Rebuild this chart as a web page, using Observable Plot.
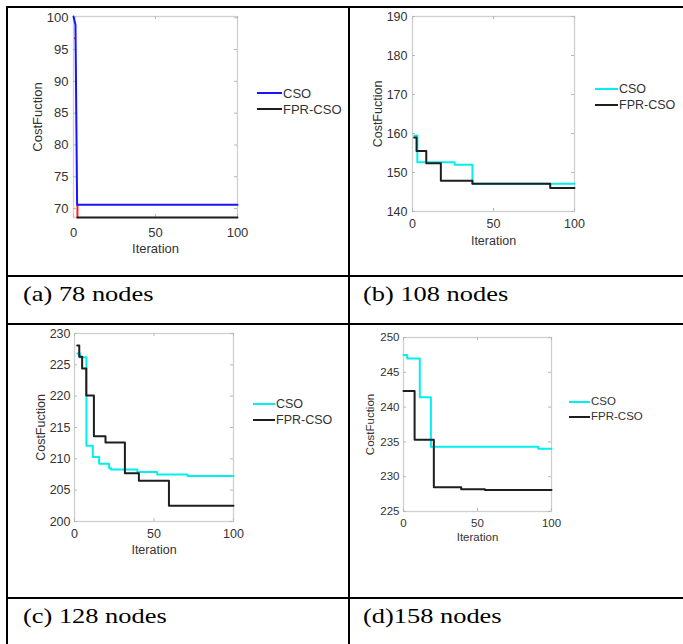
<!DOCTYPE html>
<html><head><meta charset="utf-8">
<script src="https://cdn.jsdelivr.net/npm/d3@7"></script>
<script src="https://cdn.jsdelivr.net/npm/@observablehq/plot@0.6"></script>
<style>
body{margin:0;background:#fff;}
#root{position:relative;width:683px;height:644px;overflow:hidden;background:#fff;font-family:"Liberation Sans",Arial,sans-serif;}
.hl{position:absolute;background:#000;height:2px;}
.vl{position:absolute;background:#000;width:2px;}
.cap{position:absolute;font-family:"Liberation Serif","Times New Roman",serif;font-size:22px;color:#000;transform:scaleX(1.2);transform-origin:0 0;white-space:nowrap;line-height:1;}
.panel{position:absolute;}
.panel svg{overflow:visible;}
.legline{position:absolute;height:2px;}
.legtxt{position:absolute;font-family:"Liberation Sans",Arial,sans-serif;color:#333;white-space:nowrap;line-height:1;}
</style></head><body><div id="root"></div>
<script>
// ---------- data ----------
const xTicks = [0, 50, 100];
const seriesNames = ["CSO", "FPR-CSO"];
const captions = ["(a) 78 nodes", "(b) 108 nodes", "(c) 128 nodes", "(d)158 nodes"];
const yLabel = "CostFuction";
const xLabel = "Iteration";

// (a) 78 nodes
const aYTicks = [70, 75, 80, 85, 90, 95, 100];
const aCsoIter = [0, 1.2, 2.2, 100];
const aCsoVal = [100.2, 98.9, 70.6, 70.6];
const aFprIter = [2.4, 100];
const aFprVal = [68.6, 68.6];
const aRedIter = [2.4, 2.4];
const aRedVal = [68.6, 70.6];
const aRedDotIter = [0.9];
const aRedDotVal = [96.8];

// (b) 108 nodes
const bYTicks = [140, 150, 160, 170, 180, 190];
const bCsoIter = [1, 3, 26, 37, 100];
const bCsoVal = [159.5, 152.6, 152.0, 147.1, 147.1];
const bFprIter = [1, 2.5, 8.5, 17.5, 37, 85, 100];
const bFprVal = [159.0, 155.5, 152.4, 147.9, 147.1, 146.0, 146.0];

// (c) 128 nodes
const cYTicks = [200, 205, 210, 215, 220, 225, 230];
const cCsoIter = [1.7, 3.4, 7.5, 11.5, 15.5, 21.8, 23, 39.5, 52, 71, 100];
const cCsoVal = [226.8, 226.2, 212.1, 210.3, 209.2, 208.5, 208.3, 207.9, 207.5, 207.25, 207.25];
const cFprIter = [1.7, 3, 4.8, 7.4, 12.2, 19.5, 31.7, 40.5, 59.4, 100];
const cFprVal = [228.1, 226.3, 224.4, 220.1, 213.6, 212.6, 207.7, 206.5, 202.5, 202.5];

// (d) 158 nodes
const dYTicks = [225, 230, 235, 240, 245, 250];
const dCsoIter = [0, 2.5, 11, 18.5, 91, 100];
const dCsoVal = [247.5, 247.0, 241.4, 234.3, 234.0, 234.0];
const dFprIter = [0, 7.5, 20.5, 39, 55, 100];
const dFprVal = [242.3, 235.3, 228.5, 228.2, 228.1, 228.1];

// ---------- layout ----------
const root = document.getElementById("root");
function el(cls, css, text) {
  const d = document.createElement("div");
  d.className = cls;
  Object.assign(d.style, css);
  if (text != null) d.textContent = text;
  root.appendChild(d);
  return d;
}
// table lines
el("hl", {left: "7px", top: "6px", width: "676px"});
el("hl", {left: "7px", top: "275px", width: "676px"});
el("hl", {left: "7px", top: "323px", width: "676px"});
el("hl", {left: "7px", top: "597px", width: "676px"});
el("vl", {left: "6px", top: "6px", height: "638px"});
el("vl", {left: "348px", top: "6px", height: "638px"});
// captions
el("cap", {left: "23px", top: "283px"}, captions[0]);
el("cap", {left: "363px", top: "283px"}, captions[1]);
el("cap", {left: "23px", top: "605px"}, captions[2]);
el("cap", {left: "363px", top: "605px"}, captions[3]);

const zip = (xs, ys) => xs.map((x, i) => ({iter: x, val: ys[i]}));

function panel(cfg) {
  const innerH = cfg.height - cfg.mt - cfg.mb;
  const innerW = cfg.width - cfg.ml - cfg.mr;
  const tickStroke = "#b8b8b8";
  const marks = [
    Plot.frame({stroke: "#cfcfcf", strokeWidth: 1.3}),
    Plot.tickX(xTicks, {x: d => d, insetTop: innerH - 3, stroke: tickStroke}),
    Plot.tickX(xTicks, {x: d => d, insetBottom: innerH - 3, stroke: tickStroke}),
    Plot.tickY(cfg.yTicks, {y: d => d, insetRight: innerW - 3, stroke: tickStroke}),
    Plot.tickY(cfg.yTicks, {y: d => d, insetLeft: innerW - 3, stroke: tickStroke}),
    Plot.axisX(xTicks, {tickSize: 0, tickPadding: cfg.xPad, fontSize: cfg.fs}),
    Plot.axisY(cfg.yTicks, {tickSize: 0, tickPadding: cfg.yPad, fontSize: cfg.fs}),
    ...cfg.extra,
    Plot.line(zip(cfg.csoIter, cfg.csoVal), {x: "iter", y: "val", curve: cfg.curve, stroke: cfg.csoColor, strokeWidth: 2}),
    Plot.line(zip(cfg.fprIter, cfg.fprVal), {x: "iter", y: "val", curve: cfg.curve, stroke: "#1e1e1e", strokeWidth: 2}),
    Plot.text([xLabel], {text: d => d, frameAnchor: "bottom", lineAnchor: "middle", textAnchor: "middle", dy: cfg.xlDy, fontSize: cfg.fs}),
    Plot.text([yLabel], {text: d => d, frameAnchor: "left", lineAnchor: "middle", textAnchor: "middle", dx: cfg.ylDx, rotate: -90, fontSize: cfg.fs})
  ];
  const svg = Plot.plot({
    width: cfg.width, height: cfg.height,
    marginLeft: cfg.ml, marginRight: cfg.mr, marginTop: cfg.mt, marginBottom: cfg.mb,
    x: {domain: [0, 100], label: null},
    y: {domain: cfg.yDomain, label: null},
    style: {fontFamily: "Liberation Sans, Arial, sans-serif", fontSize: cfg.fs + "px", color: "#333", background: "transparent", overflow: "visible"},
    marks
  });
  const wrap = el("panel", {left: cfg.left + "px", top: cfg.top + "px"});
  wrap.appendChild(svg);
  // legend
  const colors = [cfg.csoColor, "#1e1e1e"];
  seriesNames.forEach((name, i) => {
    const y = cfg.legY[i];
    el("legline", {left: cfg.legX0 + "px", top: (y - 1) + "px", width: (cfg.legX1 - cfg.legX0) + "px", background: colors[i]});
    el("legtxt", {left: (cfg.legX1 + 1) + "px", top: (y - 0.49 * cfg.fs) + "px", fontSize: cfg.fs + "px"}, name);
  });
}

panel({
  left: 12, top: 9, width: 241, height: 253, ml: 61, mr: 16, mt: 7, mb: 45,
  yDomain: [68.6, 100.2], yTicks: aYTicks, fs: 13, xPad: 10, yPad: 5, xlDy: 31, ylDx: -36,
  csoIter: aCsoIter, csoVal: aCsoVal, fprIter: aFprIter, fprVal: aFprVal,
  csoColor: "#1515ff", curve: "linear",
  extra: [
    Plot.line(zip(aRedIter, aRedVal), {x: "iter", y: "val", stroke: "#ff2020", strokeWidth: 2}),
    Plot.dot(zip(aRedDotIter, aRedDotVal), {x: "iter", y: "val", r: 1, fill: "#ff2020"})
  ],
  legX0: 257, legX1: 282, legY: [93, 109]
});
panel({
  left: 355, top: 9, width: 235, height: 247, ml: 57, mr: 16, mt: 7, mb: 45,
  yDomain: [140, 190], yTicks: bYTicks, fs: 12.5, xPad: 8, yPad: 5, xlDy: 29, ylDx: -35,
  csoIter: bCsoIter, csoVal: bCsoVal, fprIter: bFprIter, fprVal: bFprVal,
  csoColor: "#00f0f0", curve: "step-after", extra: [],
  legX0: 595, legX1: 618, legY: [89, 105]
});
panel({
  left: 12, top: 327, width: 237, height: 239, ml: 62, mr: 16, mt: 6, mb: 45,
  yDomain: [200, 230], yTicks: cYTicks, fs: 12.5, xPad: 8, yPad: 4, xlDy: 28, ylDx: -34,
  csoIter: cCsoIter, csoVal: cCsoVal, fprIter: cFprIter, fprVal: cFprVal,
  csoColor: "#00f0f0", curve: "step-after", extra: [],
  legX0: 253, legX1: 275, legY: [404, 420]
});
panel({
  left: 355, top: 327, width: 212, height: 229, ml: 48, mr: 16, mt: 10, mb: 45,
  yDomain: [225, 250], yTicks: dYTicks, fs: 11.5, xPad: 7, yPad: 4, xlDy: 26, ylDx: -33,
  csoIter: dCsoIter, csoVal: dCsoVal, fprIter: dFprIter, fprVal: dFprVal,
  csoColor: "#00f0f0", curve: "step-after", extra: [],
  legX0: 569, legX1: 590, legY: [402, 417]
});
</script></body></html>
